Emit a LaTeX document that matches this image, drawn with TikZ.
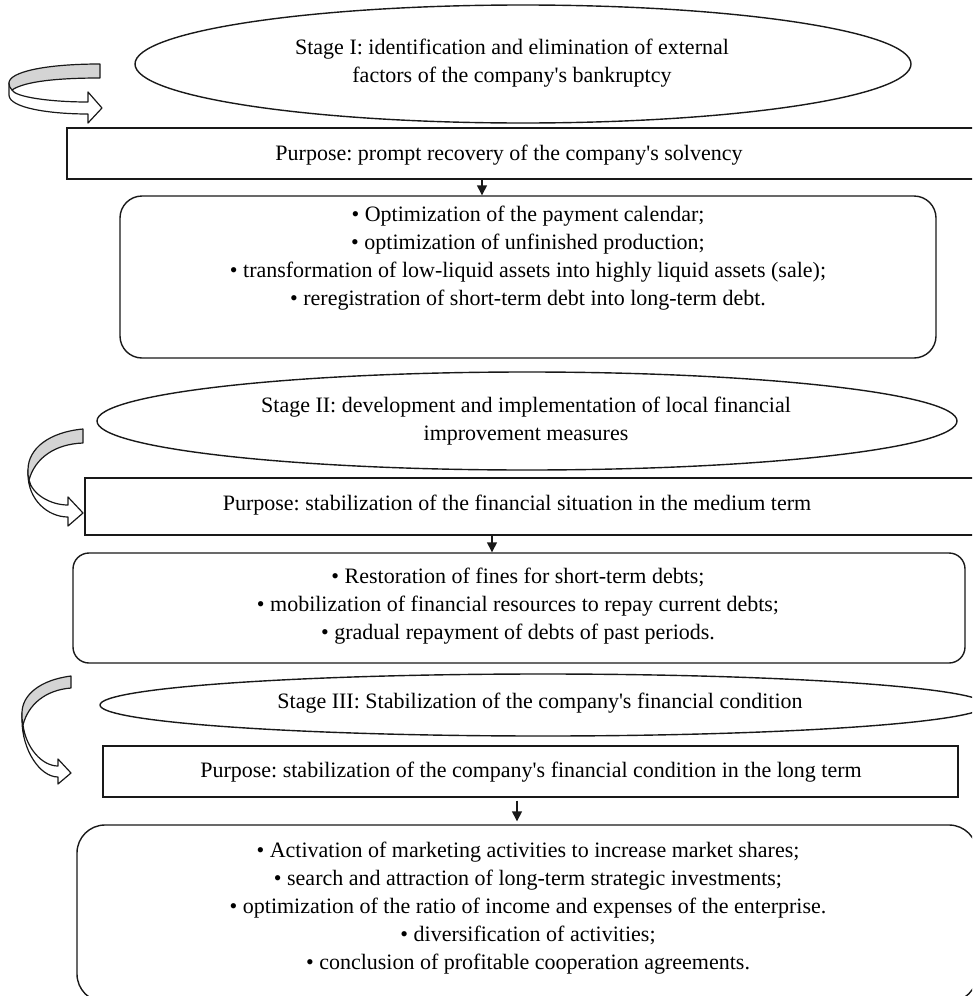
\documentclass[tikz,border=0pt]{standalone}
\usepackage{fontspec}
\setmainfont{Liberation Serif}
\usetikzlibrary{shapes.geometric,arrows.meta}
\definecolor{ribbongray}{RGB}{212,212,212}
\newcommand{\apos}{\textquotesingle}
\tikzset{
  outl/.style={draw=black!90, line width=1.4pt},
  oval/.style={outl, ellipse, inner sep=0pt},
  sqbox/.style={outl, rectangle, inner sep=0pt},
  rbox/.style={outl, rectangle, inner sep=0pt},
  txt/.style={align=center, inner sep=0pt},
  flowarrow/.style={draw=black!90, line width=1.4pt, -{Triangle[width=10pt,length=10pt]}},
  ribbonback/.style={draw=black!90, line width=1.2pt, fill=ribbongray, line join=round},
  ribbonfront/.style={draw=black!90, line width=1.2pt, fill=white, line join=round},
}
\frenchspacing
\begin{document}
\begin{tikzpicture}[x=1pt, y=-1pt, font=\fontsize{22}{28}\selectfont\frenchspacing]
\useasboundingbox (0,0) rectangle (972,996);
\clip (0,0) rectangle (972,996);

% ---------- Stage I ----------
\node[oval, minimum width=776pt, minimum height=118pt] (E1) at (523,64) {};
\node[txt] (E1t) at (512,63) {Stage I: identification and elimination of external\\factors of the company\apos s bankruptcy};

\node[sqbox, minimum width=913pt, minimum height=51pt] (P1) at (523.5,153.5) {};
\node[txt] (P1t) at (509,155) {Purpose: prompt recovery of the company\apos s solvency};

\node[rbox, rounded corners=22pt, minimum width=816pt, minimum height=162pt] (B1) at (528,277) {};
\node[txt] (B1t) at (528,258) {\textbullet\ Optimization of the payment calendar;\\
\textbullet\ optimization of unfinished production;\\
\textbullet\ transformation of low-liquid assets into highly liquid assets (sale);\\
\textbullet\ reregistration of short-term debt into long-term debt.};

\coordinate (a1) at (482,0);
\draw[flowarrow] (P1.south -| a1) -- (B1.north -| a1);

% ---------- Stage II ----------
\node[oval, minimum width=860pt, minimum height=98pt] (E2) at (527,421) {};
\node[txt] (E2t) at (526,421) {Stage II: development and implementation of local financial\\improvement measures};

\node[sqbox, minimum width=895pt, minimum height=57pt] (P2) at (532.5,506.5) {};
\node[txt] (P2t) at (517,505) {Purpose: stabilization of the financial situation in the medium term};

\node[rbox, rounded corners=16pt, minimum width=892pt, minimum height=110pt] (B2) at (519,608) {};
\node[txt] (B2t) at (518,606) {\textbullet\ Restoration of fines for short-term debts;\\
\textbullet\ mobilization of financial resources to repay current debts;\\
\textbullet\ gradual repayment of debts of past periods.};

\coordinate (a2) at (492,0);
\draw[flowarrow] (P2.south -| a2) -- (B2.north -| a2);

% ---------- Stage III ----------
\node[oval, minimum width=886pt, minimum height=62pt] (E3) at (543,705) {};
\node[txt] (E3t) at (540,703) {Stage III: Stabilization of the company\apos s financial condition};

\node[sqbox, minimum width=855pt, minimum height=51pt] (P3) at (530.5,771.5) {};
\node[txt] (P3t) at (531,772) {Purpose: stabilization of the company\apos s financial condition in the long term};

\node[rbox, rounded corners=28pt, minimum width=900pt, minimum height=177pt] (B3) at (527,913.5) {};
\node[txt] (B3t) at (528,908) {\textbullet\ Activation of marketing activities to increase market shares;\\
\textbullet\ search and attraction of long-term strategic investments;\\
\textbullet\ optimization of the ratio of income and expenses of the enterprise.\\
\textbullet\ diversification of activities;\\
\textbullet\ conclusion of profitable cooperation agreements.};

\coordinate (a3) at (517,0);
\draw[flowarrow] ([yshift=-3pt]P3.south -| a3) -- ([yshift=3pt]B3.north -| a3);

% ---------- curved ribbon arrows ----------
% arrow 1
\path[ribbonfront] (9,83) -- (9,95) .. controls (9,108) and (50,114) .. (88,114)
  -- (88,123) -- (102,108) -- (88,92) -- (88,102)
  .. controls (50,102) and (15,97) .. (12,90) -- cycle;
\path[ribbonback] (100,64) .. controls (45,64) and (9,72) .. (9,83)
  .. controls (9,86) and (10,88) .. (12,90)
  .. controls (25,81) and (60,78) .. (100,78) -- cycle;

% arrow 2
\path[ribbonfront] (28,470) -- (28,474) .. controls (28,500) and (48,517) .. (68,517)
  -- (68,526) -- (83,513) -- (68,497) -- (68,505)
  .. controls (50,505) and (32,494) .. (29,480) -- cycle;
\path[ribbonback] (83,429) .. controls (50,432) and (28,448) .. (28,470)
  .. controls (28,474) and (28,477) .. (29,480)
  .. controls (35,458) and (55,444) .. (83,443) -- cycle;

% arrow 3
\path[ribbonfront] (22,713) -- (22,720) .. controls (22,750) and (40,777) .. (58,777)
  -- (58,784) -- (71,773) -- (58,759) -- (58,766)
  .. controls (42,766) and (26,748) .. (23,725) -- cycle;
\path[ribbonback] (71,676) .. controls (40,680) and (22,695) .. (22,713)
  .. controls (22,717) and (22,721) .. (23,725)
  .. controls (28,705) and (45,690) .. (71,688) -- cycle;
\end{tikzpicture}
\end{document}
